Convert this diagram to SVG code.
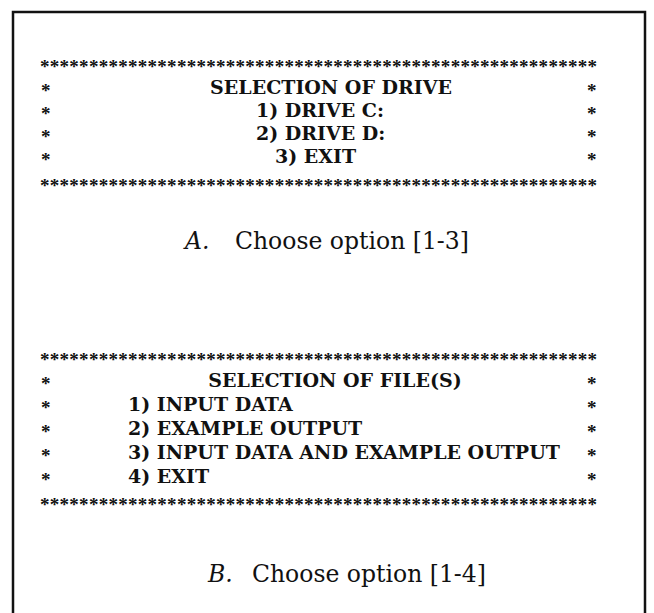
<svg xmlns="http://www.w3.org/2000/svg" width="654" height="613" viewBox="0 0 654 613">
<style>
.m{font-family:"DejaVu Serif","Liberation Serif",serif;font-weight:bold;font-size:19px;fill:#111}
.s{font-family:"Liberation Serif","DejaVu Serif",serif;font-weight:bold;font-size:19px;fill:#111}
.c{font-family:"DejaVu Serif","Liberation Serif",serif;font-size:23.5px;fill:#111}
</style>
<rect x="0" y="0" width="654" height="613" fill="#fff"/>
<path d="M13,625 V12 H645 V625" fill="none" stroke="#111" stroke-width="2.5"/>
<g id="menuA">
<text class="s" x="40" y="73" textLength="557" lengthAdjust="spacing">*********************************************************</text>
<text class="s" x="41" y="97">*</text><text class="s" x="587" y="97">*</text>
<text class="s" x="41" y="120">*</text><text class="s" x="587" y="120">*</text>
<text class="s" x="41" y="143">*</text><text class="s" x="587" y="143">*</text>
<text class="s" x="41" y="166">*</text><text class="s" x="587" y="166">*</text>
<text class="m" x="331" y="94" text-anchor="middle">SELECTION OF DRIVE</text>
<text class="m" x="256" y="117">1) DRIVE C:</text>
<text class="m" x="256" y="140">2) DRIVE D:</text>
<text class="m" x="275" y="163">3) EXIT</text>
<text class="s" x="40" y="192" textLength="557" lengthAdjust="spacing">*********************************************************</text>
</g>
<g id="captionA">
<text class="c" x="185" y="248.5" font-style="italic">A.</text>
<text class="c" x="235" y="248.5">Choose option [1-3]</text>
</g>
<g id="menuB">
<text class="s" x="40" y="366" textLength="557" lengthAdjust="spacing">*********************************************************</text>
<text class="s" x="41" y="390">*</text><text class="s" x="587" y="390">*</text>
<text class="s" x="41" y="414">*</text><text class="s" x="587" y="414">*</text>
<text class="s" x="41" y="438">*</text><text class="s" x="587" y="438">*</text>
<text class="s" x="41" y="462">*</text><text class="s" x="587" y="462">*</text>
<text class="s" x="41" y="486">*</text><text class="s" x="587" y="486">*</text>
<text class="m" x="335" y="387" text-anchor="middle">SELECTION OF FILE(S)</text>
<text class="m" x="128" y="411">1) INPUT DATA</text>
<text class="m" x="128" y="435">2) EXAMPLE OUTPUT</text>
<text class="m" x="128" y="459">3) INPUT DATA AND EXAMPLE OUTPUT</text>
<text class="m" x="128" y="483">4) EXIT</text>
<text class="s" x="40" y="511" textLength="557" lengthAdjust="spacing">*********************************************************</text>
</g>
<g id="captionB">
<text class="c" x="208" y="581.5" font-style="italic">B.</text>
<text class="c" x="252" y="581.5">Choose option [1-4]</text>
</g>
</svg>
